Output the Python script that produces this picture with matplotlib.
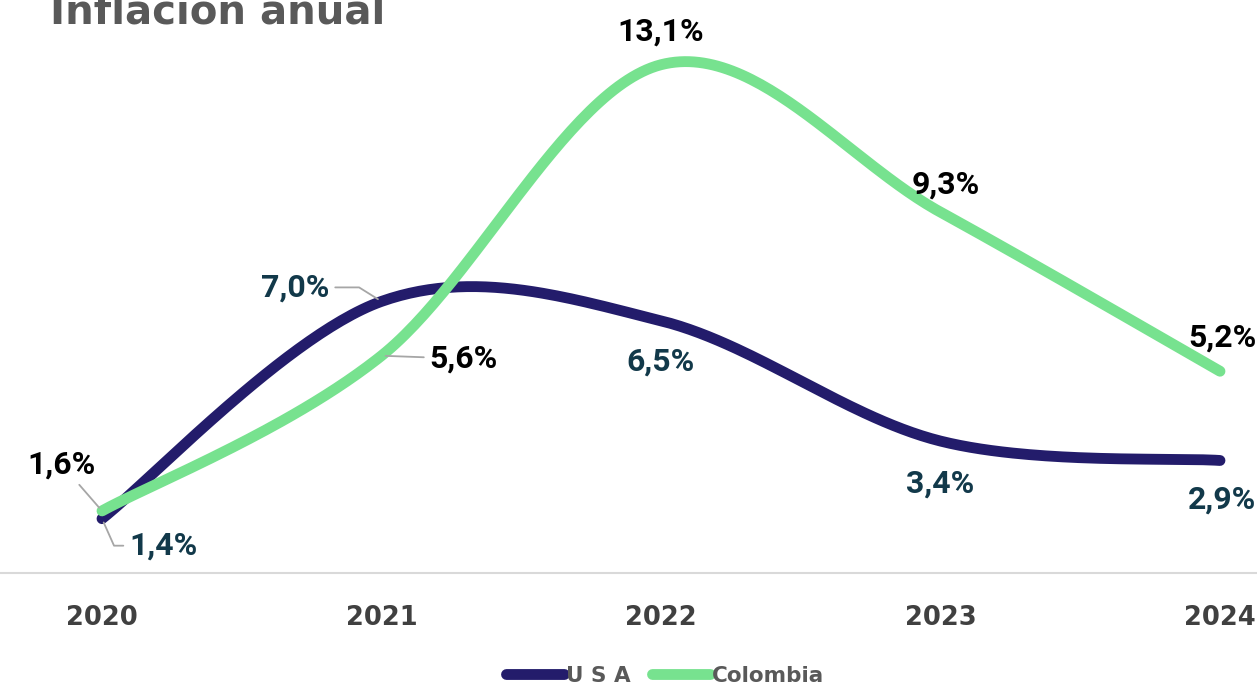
import numpy as np
import matplotlib
matplotlib.use("Agg")
import matplotlib.pyplot as plt

years = ["2020", "2021", "2022", "2023", "2024"]
usa = [1.4, 7.0, 6.5, 3.4, 2.9]
colombia = [1.6, 5.6, 13.1, 9.3, 5.2]

usa_color = "#231C6B"
col_color = "#77E28F"


def smooth(y, n=60):
    # Catmull-Rom curve through the points (like Excel's "smoothed line")
    x = np.arange(len(y), dtype=float)
    p = np.column_stack([x, np.asarray(y, dtype=float)])
    pts = np.vstack([p[0], p, p[-1]])
    out = []
    for i in range(1, len(pts) - 2):
        p0, p1, p2, p3 = pts[i - 1], pts[i], pts[i + 1], pts[i + 2]
        c1 = p1 + (p2 - p0) / 6
        c2 = p2 - (p3 - p1) / 6
        t = np.linspace(0, 1, n)[:, None]
        seg = ((1 - t) ** 3) * p1 + 3 * ((1 - t) ** 2) * t * c1 + 3 * (1 - t) * t ** 2 * c2 + t ** 3 * p2
        out.append(seg)
    out = np.vstack(out)
    return out[:, 0], out[:, 1]


fig = plt.figure(figsize=(12.57, 6.88), dpi=100)
ax = fig.add_axes([0, 115 / 688, 1, 573 / 688])

px_x = 279.5
ax.set_xlim(-102 / px_x, (1257 - 102) / px_x)
ax.set_ylim(0, 573 / 38.8)

ux, uy = smooth(usa)
cx, cy = smooth(colombia)
ax.plot(ux, uy, color=usa_color, lw=7.8, solid_capstyle="round", label="U S A", zorder=2)
ax.plot(cx, cy, color=col_color, lw=7.8, solid_capstyle="round", label="Colombia", zorder=3)

lab_font = dict(family="Roboto", fontweight="bold", fontsize=23)
lead = dict(arrowstyle="-", color="#A6A6A6", lw=1.3, shrinkA=2, shrinkB=3)

# Colombia labels (black)
col_off = [(-40, 46), (82, -3), (0, 33), (5, 28), (2, 34)]
for i, v in enumerate(colombia):
    arrow = None
    if i in (0, 1):
        arrow = dict(lead)
    ax.annotate(f"{v:.1f}%".replace(".", ","), (i, v), xytext=col_off[i],
                textcoords="offset pixels", ha="center", va="center",
                color="black", arrowprops=arrow, zorder=5, **lab_font)

# USA labels (dark teal)
usa_off = [(61, -27), (-86, 14), (0, -41), (0, -42), (2, -39)]
for i, v in enumerate(usa):
    arrow = None
    if i == 0:
        arrow = dict(lead, connectionstyle="angle,angleA=0,angleB=-66")
    elif i == 1:
        arrow = dict(lead, connectionstyle="angle,angleA=0,angleB=-32")
    ax.annotate(f"{v:.1f}%".replace(".", ","), (i, v), xytext=usa_off[i],
                textcoords="offset pixels", ha="center", va="center",
                color="#12394A", arrowprops=arrow, zorder=5, **lab_font)

for s in ["top", "right", "left"]:
    ax.spines[s].set_visible(False)
ax.spines["bottom"].set_color("#D9D9D9")
ax.spines["bottom"].set_linewidth(1.5)
ax.set_yticks([])
ax.set_xticks(range(len(years)))
ax.set_xticklabels(years, fontsize=18.5, fontweight="bold", color="#404040")
ax.tick_params(axis="x", length=0, pad=23)

fig.text(50 / 1257, 1 - 24 / 688, "Inflación anual", fontsize=29, fontweight="bold",
         color="#595959", ha="left", va="baseline")

leg = fig.legend(loc="center", bbox_to_anchor=(665 / 1257, 12 / 688), ncol=2, frameon=False,
                 prop=dict(weight="bold", size=15.5), handlelength=2.7, handletextpad=0.1,
                 columnspacing=1.0)
for t in leg.get_texts():
    t.set_color("#595959")
for h in leg.get_lines():
    h.set_linewidth(7.8)
    h.set_solid_capstyle("round")

fig.savefig("out.png", dpi=100)
